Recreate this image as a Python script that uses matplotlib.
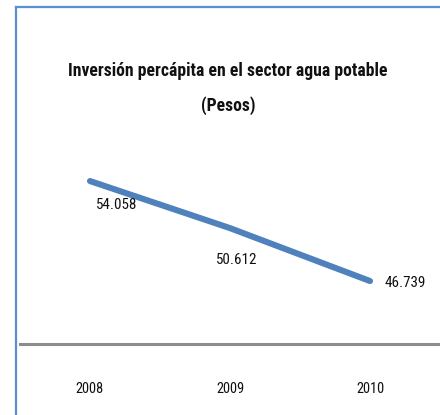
import matplotlib
matplotlib.use("Agg")
import matplotlib.pyplot as plt
from matplotlib import font_manager as fm
from matplotlib.lines import Line2D

# data
years = ["2008", "2009", "2010"]
values = [54.058, 50.612, 46.739]
value_labels = ["54.058", "50.612", "46.739"]
title = "Inversión percápita en el sector agua potable\n(Pesos)"

W, H = 440, 415

# pick the narrowest installed family we can find (reference uses a narrow font)
names = {f.name for f in fm.fontManager.ttflist}
font = "DejaVu Sans"
for cand in ["Liberation Sans Narrow", "Roboto Condensed", "Open Sans Condensed",
             "Noto Sans Condensed", "Liberation Sans"]:
    if cand in names:
        font = cand
        break
FONT = [font, "DejaVu Sans"]

fig = plt.figure(figsize=(W / 100, H / 100), dpi=100)
fig.patch.set_facecolor("white")
renderer = fig.canvas.get_renderer()


def fit_size(txt, target_px, weight="normal"):
    # font size so that txt is target_px wide
    t = fig.text(0, 0, txt, fontsize=10, family=FONT, fontweight=weight)
    w = t.get_window_extent(renderer).width
    t.remove()
    return 10 * target_px / w


# plot area from x=20 to 440 px, y=150 to 344 px (top-down)
ax = fig.add_axes([20 / W, (H - 344) / H, 420 / W, (344 - 150) / H])
ax.set_facecolor("none")

x = list(range(len(years)))
ax.plot(x, values, color="#4f81bd", lw=4.4, solid_capstyle="round", zorder=3)

num_size = fit_size("54.058", 41)
year_size = fit_size("2008", 28)

# label offsets in pixels (label centre relative to point)
offsets = [(27, -24), (7, -32), (35, -2)]
for xi, v, lab, off in zip(x, values, value_labels, offsets):
    ax.annotate(lab, (xi, v), xytext=off, textcoords="offset pixels",
                ha="center", va="center", fontsize=num_size, family=FONT, color="#111111")

ax.set_xlim(-0.5, 2.5)
ax.set_ylim(42.13, 56.33)
ax.set_xticks(x)
ax.set_xticklabels(years, family=FONT, fontsize=year_size, color="#111111")
ax.tick_params(axis="x", length=0, pad=27)
ax.set_yticks([])
for s in ["top", "right", "left"]:
    ax.spines[s].set_visible(False)
ax.spines["bottom"].set_color("#8c8c8c")
ax.spines["bottom"].set_linewidth(2.2)

title_size = fit_size("Inversión percápita en el sector agua potable", 318, "bold")
fig.text(228 / W, 1 - 88.5 / H, title, ha="center", va="center", fontsize=title_size,
         fontweight="bold", family=FONT, linespacing=2.05, color="#111111")

# outer chart border (only left and top edges visible in the crop)
fig.add_artist(Line2D([16 / W, 16 / W], [0, 1 - 7 / H], transform=fig.transFigure,
                      color="#5b8fd4", lw=1.6))
fig.add_artist(Line2D([16 / W, 1], [1 - 7 / H, 1 - 7 / H], transform=fig.transFigure,
                      color="#5b8fd4", lw=1.6))

fig.savefig("out.png", dpi=100)
